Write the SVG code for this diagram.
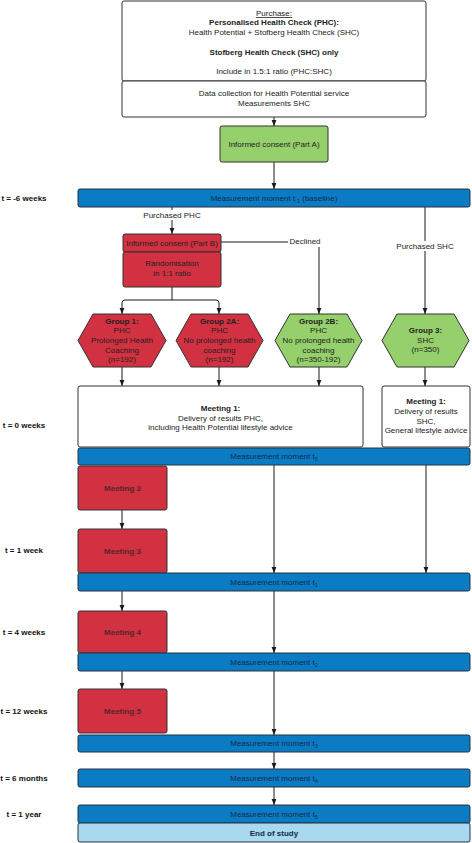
<svg xmlns="http://www.w3.org/2000/svg" width="472" height="843" viewBox="0 0 472 843">
<defs>
<marker id="arr" markerUnits="userSpaceOnUse" markerWidth="6" markerHeight="6" refX="6" refY="3" orient="auto">
<path d="M0,0.6 L6,3 L0,5.4 z" fill="#1a1a1a"/>
</marker>
<style>
text{font-family:"Liberation Sans",Arial,sans-serif;font-size:8px;fill:#222;text-anchor:middle}
.b{font-weight:bold}
.wbox{fill:#fff;stroke:#333;stroke-width:1}
.green{fill:#96d06c;stroke:#333;stroke-width:1}
.red{fill:#d13140;stroke:#333;stroke-width:1}
.bar{fill:#0b7cc3;stroke:#26323f;stroke-width:1}
.end{fill:#a8d9f1;stroke:#26323f;stroke-width:1}
.bt{fill:#13294a}
.mt{fill:#55252a;font-weight:bold}
.tl{font-weight:bold;fill:#111}
.c{fill:none;stroke:#1a1a1a;stroke-width:1}
.lbl{fill:#fff}
</style>
</defs>
<rect width="472" height="843" fill="#fff"/>

<g id="timeline-labels">
<text class="tl" x="24" y="201">t = -6 weeks</text>
<text class="tl" x="24" y="428">t = 0 weeks</text>
<text class="tl" x="24" y="553">t = 1 week</text>
<text class="tl" x="24" y="635">t = 4 weeks</text>
<text class="tl" x="24" y="714">t = 12 weeks</text>
<text class="tl" x="24" y="781">t = 6 months</text>
<text class="tl" x="24" y="817">t = 1 year</text>
</g>

<g id="connectors">
<path class="c" d="M274,117 V126" marker-end="url(#arr)"/>
<path class="c" d="M274,162 V189" marker-end="url(#arr)"/>
<path class="c" d="M172,207 V234" marker-end="url(#arr)"/>
<path class="c" d="M221,242 H319 V314" marker-end="url(#arr)"/>
<path class="c" d="M425,207 V314" marker-end="url(#arr)"/>
<path class="c" d="M172,287 V300 H125 Q122,300 122,303 V314" marker-end="url(#arr)"/>
<path class="c" d="M172,300 H216 Q219,300 219,303 V314" marker-end="url(#arr)"/>
<path class="c" d="M122,367 V386" marker-end="url(#arr)"/>
<path class="c" d="M219,367 V386" marker-end="url(#arr)"/>
<path class="c" d="M319,367 V386" marker-end="url(#arr)"/>
<path class="c" d="M425,367 V386" marker-end="url(#arr)"/>
<path class="c" d="M122,510 V529" marker-end="url(#arr)"/>
<path class="c" d="M274,465 V573" marker-end="url(#arr)"/>
<path class="c" d="M426,465 V573" marker-end="url(#arr)"/>
<path class="c" d="M122,591 V611" marker-end="url(#arr)"/>
<path class="c" d="M274,591 V653" marker-end="url(#arr)"/>
<path class="c" d="M122,671 V689" marker-end="url(#arr)"/>
<path class="c" d="M274,671 V735" marker-end="url(#arr)"/>
<path class="c" d="M274,752 V769" marker-end="url(#arr)"/>
<path class="c" d="M274,787 V805" marker-end="url(#arr)"/>
<rect class="lbl" x="143" y="210" width="58" height="10"/>
<text x="172" y="218">Purchased PHC</text>
<rect class="lbl" x="288" y="237" width="34" height="10"/>
<text x="305" y="244">Declined</text>
<rect class="lbl" x="395" y="241" width="60" height="10"/>
<text x="425" y="249">Purchased SHC</text>
</g>

<g id="purchase">
<rect class="wbox" x="122" y="1" width="304" height="80" rx="2"/>
<text x="274" y="16" text-decoration="underline">Purchase:</text>
<text class="b" x="274" y="25">Personalised Health Check (PHC):</text>
<text x="274" y="35">Health Potential + Stofberg Health Check (SHC)</text>
<text class="b" x="274" y="55">Stofberg Health Check (SHC) only</text>
<text x="274" y="74">Include in 1.5:1 ratio (PHC:SHC)</text>
</g>
<g id="data-collection">
<rect class="wbox" x="122" y="81" width="304" height="36" rx="2"/>
<text x="274" y="96">Data collection for Health Potential service</text>
<text x="274" y="106">Measurements SHC</text>
</g>
<g id="consent-a">
<rect class="green" x="220" y="126" width="108" height="36" rx="2"/>
<text x="274" y="147">Informed consent (Part A)</text>
</g>
<g id="baseline">
<rect class="bar" x="78" y="189" width="392" height="18" rx="2"/>
<text class="bt" x="274" y="201">Measurement moment t<tspan font-size="5.5" dy="2">-1</tspan><tspan dy="-2"> (baseline)</tspan></text>
</g>
<g id="consent-b">
<rect class="red" x="123" y="234" width="98" height="18" rx="2"/>
<text x="172" y="246">Informed consent (Part B)</text>
</g>
<g id="randomisation">
<rect class="red" x="123" y="252" width="98" height="35" rx="2"/>
<text x="172" y="266">Randomisation</text>
<text x="172" y="276">in 1:1 ratio</text>
</g>

<g id="group1">
<path class="red" d="M93,314 H151 L166,340.5 L151,367 H93 L78,340.5 Z" stroke-linejoin="round"/>
<text class="b" x="122" y="323.7">Group 1:</text>
<text x="122" y="333.3">PHC</text>
<text x="122" y="342.9">Prolonged Health</text>
<text x="122" y="352.5">Coaching</text>
<text x="122" y="362.1">(n=192)</text>
</g>
<g id="group2a">
<path class="red" d="M191,314 H248 L263,340.5 L248,367 H191 L176,340.5 Z" stroke-linejoin="round"/>
<text class="b" x="219.5" y="323.7">Group 2A:</text>
<text x="219.5" y="333.3">PHC</text>
<text x="219.5" y="342.9">No prolonged health</text>
<text x="219.5" y="352.5">coaching</text>
<text x="219.5" y="362.1">(n=192)</text>
</g>
<g id="group2b">
<path class="green" d="M290,314 H347 L362,340.5 L347,367 H290 L275,340.5 Z" stroke-linejoin="round"/>
<text class="b" x="318.5" y="323.7">Group 2B:</text>
<text x="318.5" y="333.3">PHC</text>
<text x="318.5" y="342.9">No prolonged health</text>
<text x="318.5" y="352.5">coaching</text>
<text x="318.5" y="362.1">(n=350-192)</text>
</g>
<g id="group3">
<path class="green" d="M397,314 H454 L469,340.5 L454,367 H397 L382,340.5 Z" stroke-linejoin="round"/>
<text class="b" x="425.5" y="333">Group 3:</text>
<text x="425.5" y="342.7">SHC</text>
<text x="425.5" y="352.3">(n=350)</text>
</g>

<g id="meeting1-phc">
<rect class="wbox" x="78" y="386" width="285" height="61" rx="2"/>
<text class="b" x="220.5" y="411">Meeting 1:</text>
<text x="220.5" y="420.5">Delivery of results PHC,</text>
<text x="220.5" y="430">including Health Potential lifestyle advice</text>
</g>
<g id="meeting1-shc">
<rect class="wbox" x="382" y="386" width="88" height="61" rx="2"/>
<text class="b" x="426" y="404">Meeting 1:</text>
<text x="426" y="414">Delivery of results</text>
<text x="426" y="423.5">SHC,</text>
<text x="426" y="433">General lifestyle advice</text>
</g>
<g id="t0">
<rect class="bar" x="78" y="448" width="392" height="17" rx="2"/>
<text class="bt" x="274" y="459">Measurement moment t<tspan font-size="5.5" dy="2">0</tspan></text>
</g>
<g id="meeting2">
<rect class="red" x="78" y="466" width="89" height="44" rx="2"/>
<text class="mt" x="122.5" y="491">Meeting 2</text>
</g>
<g id="meeting3">
<rect class="red" x="78" y="529" width="89" height="44" rx="2"/>
<text class="mt" x="122.5" y="554">Meeting 3</text>
</g>
<g id="t1">
<rect class="bar" x="78" y="573" width="392" height="18" rx="2"/>
<text class="bt" x="274" y="585">Measurement moment t<tspan font-size="5.5" dy="2">1</tspan></text>
</g>
<g id="meeting4">
<rect class="red" x="78" y="611" width="89" height="42" rx="2"/>
<text class="mt" x="122.5" y="635">Meeting 4</text>
</g>
<g id="t2">
<rect class="bar" x="78" y="653" width="392" height="18" rx="2"/>
<text class="bt" x="274" y="665">Measurement moment t<tspan font-size="5.5" dy="2">2</tspan></text>
</g>
<g id="meeting5">
<rect class="red" x="78" y="689" width="89" height="44" rx="2"/>
<text class="mt" x="122.5" y="714">Meeting 5</text>
</g>
<g id="t3">
<rect class="bar" x="78" y="735" width="392" height="17" rx="2"/>
<text class="bt" x="274" y="746">Measurement moment t<tspan font-size="5.5" dy="2">3</tspan></text>
</g>
<g id="t4">
<rect class="bar" x="78" y="769" width="392" height="18" rx="2"/>
<text class="bt" x="274" y="781">Measurement moment t<tspan font-size="5.5" dy="2">4</tspan></text>
</g>
<g id="t5">
<rect class="bar" x="78" y="805" width="392" height="18" rx="2"/>
<text class="bt" x="274" y="817">Measurement moment t<tspan font-size="5.5" dy="2">5</tspan></text>
</g>
<g id="end-of-study">
<rect class="end" x="78" y="823" width="392" height="19" rx="2"/>
<text class="b bt" x="274" y="836">End of study</text>
</g>
</svg>
